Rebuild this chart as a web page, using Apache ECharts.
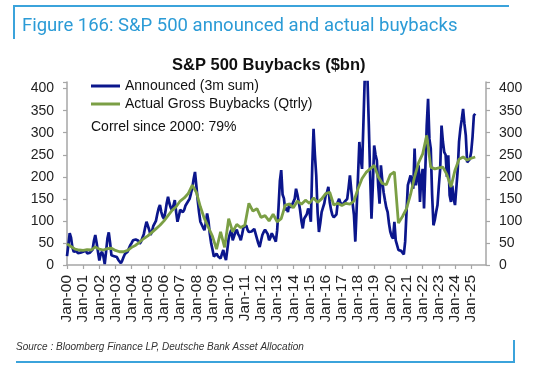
<!DOCTYPE html>
<html><head><meta charset="utf-8">
<script src="https://cdn.jsdelivr.net/npm/echarts@6/dist/echarts.min.js"></script>
<style>html,body{margin:0;padding:0;background:#fff}#c{width:548px;height:373px}</style>
</head><body><div id="c"></div>
<script>
// Month names and years for the monthly category axis
const monthNames = ['Jan','Feb','Mar','Apr','May','Jun','Jul','Aug','Sep','Oct','Nov','Dec'];
const firstYear = 2000, lastYear = 2025;

// Announced buybacks, 3m sum ($bn), monthly from Jan-00 to Apr-25
const announced = [
  20, 45, 72, 62, 40, 30, 28, 32, 27, 30, 28, 25,        // 2000
  30, 28, 33, 26, 30, 28, 30, 35, 55, 68, 50, 30,        // 2001
  10, 25, 30, 20, 2, 30, 60, 74, 50, 22, 18, 20,         // 2002
  22, 18, 12, 8, 4, 10, 18, 25, 22, 30, 38, 45,          // 2003
  50, 56, 52, 58, 62, 55, 48, 53, 62, 70, 85, 98,        // 2004
  95, 80, 68, 75, 88, 92, 100, 115, 128, 136, 120, 110,  // 2005
  105, 120, 140, 155, 140, 130, 124, 135, 147, 120, 98, 110, // 2006
  125, 128, 120, 125, 135, 139, 145, 150, 162, 175, 195, 211, // 2007
  180, 147, 120, 98, 95, 85, 79, 95, 117, 100, 70, 49,   // 2008
  35, 19, 22, 26, 20, 18, 15, 25, 34, 20, 11, 35,        // 2009
  60, 72, 80, 56, 65, 75, 80, 70, 65, 56, 70, 85,        // 2010
  88, 90, 80, 75, 72, 76, 80, 82, 79, 60, 49, 41,        // 2011
  55, 68, 75, 80, 83, 70, 56, 62, 72, 68, 60, 53,        // 2012
  79, 130, 190, 215, 160, 151, 124, 130, 120, 140, 130, 136, // 2013
  140, 150, 173, 160, 143, 125, 100, 83, 105, 110, 115, 128, // 2014
  120, 98, 220, 309, 250, 203, 120, 75, 95, 120, 130, 140,   // 2015
  158, 165, 177, 143, 125, 113, 108, 105, 115, 143, 150, 140, // 2016
  136, 138, 143, 140, 150, 175, 203, 170, 140, 113, 53, 128,  // 2017
  200, 279, 240, 218, 320, 425, 425, 425, 320, 203, 105, 180, // 2018
  271, 250, 237, 180, 139, 226, 192, 165, 147, 130, 120, 94,  // 2019
  75, 65, 60, 98, 56, 45, 34, 38, 32, 30, 24, 53,             // 2020
  120, 181, 185, 203, 200, 173, 264, 181, 200, 226, 143, 200, // 2021
  218, 128, 220, 316, 377, 286, 264, 160, 90, 102, 120, 136,  // 2022
  180, 218, 316, 280, 256, 250, 200, 249, 158, 143, 180, 150, // 2023
  136, 132, 215, 280, 309, 330, 354, 320, 294, 233, 237, 240, // 2024
  256, 290, 339, 343                                          // 2025
];

// Actual gross buybacks, quarterly ($bn), placed on Jan/Apr/Jul/Oct from Jan-00 to Apr-25
const actualQtrly = [
  48, 42, 36, 34,     // 2000
  33, 35, 34, 41,     // 2001
  36, 34, 37, 38,     // 2002
  33, 30, 30, 33,     // 2003
  40, 45, 52, 60,     // 2004
  66, 74, 82, 90,     // 2005
  100, 112, 124, 132, // 2006
  145, 152, 162, 181, // 2007
  165, 132, 105, 85,  // 2008
  65, 36, 75, 40,     // 2009
  105, 75, 92, 85,    // 2010
  90, 140, 122, 128,  // 2011
  108, 112, 100, 115, // 2012
  98, 105, 136, 138,  // 2013
  130, 145, 138, 147, // 2014
  140, 152, 142, 150, // 2015
  162, 165, 136, 140, // 2016
  135, 140, 138, 145, // 2017
  173, 196, 210, 218, // 2018
  226, 200, 185, 182, // 2019
  205, 211, 95, 110,  // 2020
  128, 160, 200, 232, // 2021
  252, 294, 222, 218, // 2022
  220, 222, 205, 177, // 2023
  215, 240, 245, 238, // 2024
  242, 245            // 2025
];

// Y-axis tick labels
const yTicks = [0, 50, 100, 150, 200, 250, 300, 350, 400];

// Build monthly categories
const categories = [];
for (let y = firstYear; y <= lastYear; y++) {
  const yy = String(y % 100).padStart(2, '0');
  for (const m of monthNames) categories.push(m + '-' + yy);
}
// Place quarterly values on monthly axis
const actualMonthly = categories.map(() => null);
actualQtrly.forEach((v, i) => { actualMonthly[i * 3] = v; });

const axisColor = '#a6a6a6';
const labelColor = '#222';
const font = 'Liberation Sans, Arial, sans-serif';

const chart = echarts.init(document.getElementById('c'), null, {renderer: 'canvas'});
const yAxisCommon = {
  type: 'value', min: 0, max: 415, interval: 50,
  axisLine: {show: true, lineStyle: {color: axisColor, width: 1.5}},
  axisTick: {show: true, length: 4, lineStyle: {color: axisColor, width: 1.2}},
  splitLine: {show: false},
  axisLabel: {
    fontSize: 14, color: labelColor, fontFamily: font, margin: 13,
    formatter: v => yTicks.includes(v) ? String(v) : ''
  }
};
chart.setOption({
  animation: false,
  backgroundColor: '#fff',
  grid: {left: 67, right: 62, top: 82, bottom: 108, containLabel: false},
  legend: {
    orient: 'vertical', left: 91, top: 79, padding: 0, itemWidth: 29, itemHeight: 3, itemGap: 4,
    icon: 'rect',
    textStyle: {fontSize: 14, color: '#111', fontFamily: font},
    data: ['Announced (3m sum)', 'Actual Gross Buybacks (Qtrly)']
  },
  xAxis: {
    type: 'category', data: categories, boundaryGap: false,
    axisLine: {show: true, lineStyle: {color: axisColor, width: 1.5}},
    axisTick: {show: true, length: 4, interval: (i) => i % 12 === 0, lineStyle: {color: axisColor, width: 1.2}},
    axisLabel: {interval: (i) => i % 12 === 0, rotate: 90, fontSize: 15.5, color: labelColor, fontFamily: font, margin: 10},
    splitLine: {show: false}
  },
  yAxis: [
    Object.assign({position: 'left'}, yAxisCommon),
    Object.assign({position: 'right'}, yAxisCommon)
  ],
  series: [
    {
      name: 'Announced (3m sum)', type: 'line', data: announced, yAxisIndex: 0,
      symbol: 'none', clip: true,
      lineStyle: {color: '#0b168c', width: 2.7}, itemStyle: {color: '#0b168c'}
    },
    {
      name: 'Actual Gross Buybacks (Qtrly)', type: 'line', data: actualMonthly, yAxisIndex: 0,
      connectNulls: true, symbol: 'none', clip: true,
      lineStyle: {color: '#7b9f45', width: 2.8}, itemStyle: {color: '#7b9f45'}
    }
  ],
  graphic: [
    {type: 'line', shape: {x1: 14, y1: 6, x2: 509, y2: 6}, style: {stroke: '#3ba3db', lineWidth: 2}},
    {type: 'line', shape: {x1: 14, y1: 5, x2: 14, y2: 39}, style: {stroke: '#3ba3db', lineWidth: 2}},
    {type: 'text', left: 22, top: 17, style: {text: 'Figure 166: S&P 500 announced and actual buybacks', fill: '#2b9bd6', fontSize: 18.5, fontFamily: 'Roboto, sans-serif'}},
    {type: 'text', left: 172, top: 57, style: {text: 'S&P 500 Buybacks ($bn)', fill: '#111', fontSize: 16.5, fontWeight: 'bold', fontFamily: font}},
    {type: 'text', left: 91, top: 120, style: {text: 'Correl since 2000: 79%', fill: '#111', fontSize: 14, fontFamily: font}},
    {type: 'text', left: 16, top: 342, style: {text: 'Source : Bloomberg Finance LP, Deutsche Bank Asset Allocation', fill: '#333', fontSize: 10, fontStyle: 'italic', fontFamily: font}},
    {type: 'line', shape: {x1: 16, y1: 362, x2: 515, y2: 362}, style: {stroke: '#3ba3db', lineWidth: 2}},
    {type: 'line', shape: {x1: 514, y1: 340, x2: 514, y2: 363}, style: {stroke: '#3ba3db', lineWidth: 2}}
  ]
});
</script></body></html>
